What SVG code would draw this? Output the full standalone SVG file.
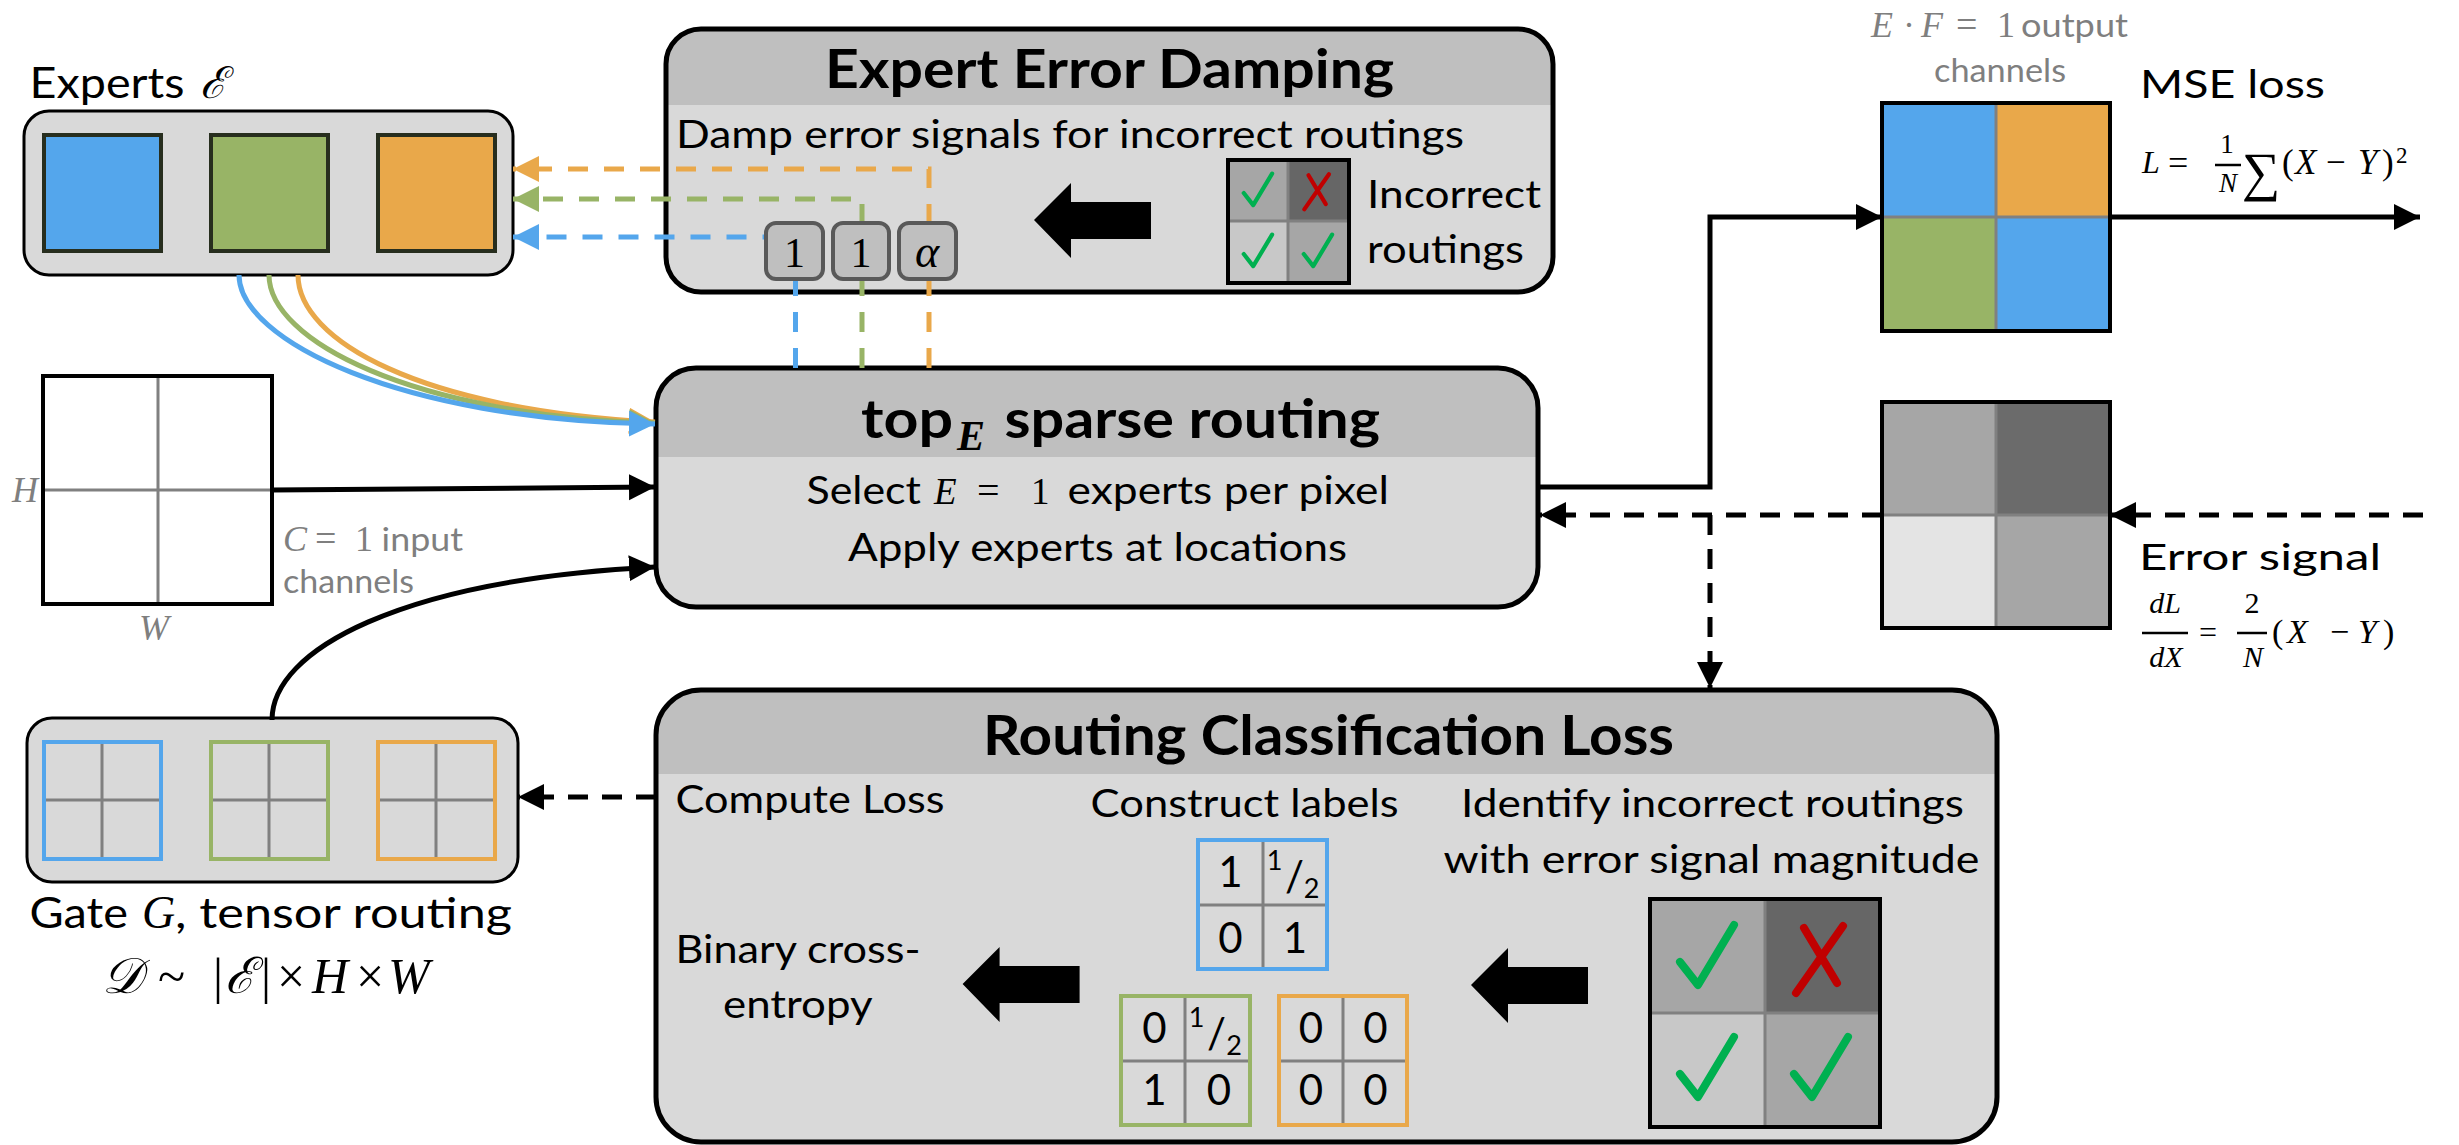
<svg xmlns="http://www.w3.org/2000/svg" width="2459" height="1145" viewBox="0 0 2459 1145">
<style>
text{font-family:Lato,"Liberation Sans",sans-serif;fill:#000}
.b{font-weight:700}
.m{font-family:"Liberation Serif","DejaVu Serif",serif;font-style:italic}
.r{font-family:"Liberation Serif","DejaVu Serif",serif;font-style:normal}
.g{fill:#7f7f7f}
.box{fill:#d9d9d9}
.hdr{fill:#bfbfbf}
.outline{fill:none;stroke:#000;stroke-width:5}
.grid{stroke:#808080;stroke-width:3;fill:none}
.frame{fill:none;stroke:#000;stroke-width:4}
.sq{stroke:#272e1e;stroke-width:4}
.solid{fill:none;stroke:#000;stroke-width:5}
.dash{fill:none;stroke:#000;stroke-width:5;stroke-dasharray:20 14}
.cd{fill:none;stroke-width:5;stroke-dasharray:20 16}
.cv{fill:none;stroke-width:5}
.badge{fill:#bfbfbf;stroke:#595959;stroke-width:4}
.ok{fill:none;stroke:#00b050;stroke-width:8;stroke-linecap:round;stroke-linejoin:round}
.no{fill:none;stroke:#c00000;stroke-width:8;stroke-linecap:round}
</style>
<defs>
<marker id="ah" markerUnits="userSpaceOnUse" markerWidth="28" markerHeight="28" refX="26" refY="13" orient="auto"><path d="M0,0 L26,13 L0,26 Z" fill="#000"/></marker>
<marker id="ab" markerUnits="userSpaceOnUse" markerWidth="28" markerHeight="28" refX="26" refY="13" orient="auto"><path d="M0,0 L26,13 L0,26 Z" fill="#54a6ec"/></marker>
<marker id="ag" markerUnits="userSpaceOnUse" markerWidth="28" markerHeight="28" refX="26" refY="13" orient="auto"><path d="M0,0 L26,13 L0,26 Z" fill="#98b466"/></marker>
<marker id="ao" markerUnits="userSpaceOnUse" markerWidth="28" markerHeight="28" refX="26" refY="13" orient="auto"><path d="M0,0 L26,13 L0,26 Z" fill="#e9a84a"/></marker>
<path id="barrow" d="M0,0 L37,-37 L37,-18 L117,-18 L117,19 L37,19 L37,38 Z" fill="#000"/>
<path id="chk" class="ok" d="M30,63 L48,86 L84,26"/>
<path id="xx" class="no" d="M39,29 L72,84 M78,27 L31,94"/>
</defs>
<rect x="0" y="0" width="2459" height="1145" fill="#fff"/>

<!-- Experts -->
<g id="experts">
<text y="98" font-size="43"><tspan x="29.5" textLength="155" lengthAdjust="spacingAndGlyphs">Experts</tspan><tspan x="200" class="m" font-size="44">ℰ</tspan></text>
<rect x="24" y="111" width="489" height="164" rx="25" fill="#d9d9d9" stroke="#000" stroke-width="3"/>
<rect x="44" y="135" width="117" height="116" fill="#54a6ec" class="sq"/>
<rect x="211" y="135" width="117" height="116" fill="#98b466" class="sq"/>
<rect x="378" y="135" width="117" height="116" fill="#e9a84a" class="sq"/>
</g>

<!-- Expert Error Damping -->
<g id="expert-error-damping">
<rect x="666" y="29" width="887" height="263" rx="35" class="box"/>
<path class="hdr" d="M666,105 V64 A35,35 0 0 1 701,29 H1518 A35,35 0 0 1 1553,64 V105 Z"/>
<rect x="666" y="29" width="887" height="263" rx="35" class="outline"/>
<text x="1109.5" y="88" text-anchor="middle" class="b" font-size="54" textLength="569" lengthAdjust="spacingAndGlyphs">Expert Error Damping</text>
<text x="676" y="148" font-size="39" textLength="788" lengthAdjust="spacingAndGlyphs">Damp error signals for incorrect routings</text>
<use href="#barrow" x="1034" y="220"/>
<rect x="1228" y="160" width="60" height="61" fill="#a6a6a6"/>
<rect x="1288" y="160" width="61" height="61" fill="#666666"/>
<rect x="1228" y="221" width="60" height="62" fill="#c8c8c8"/>
<rect x="1288" y="221" width="61" height="62" fill="#a6a6a6"/>
<path class="grid" d="M1288,160 V283 M1228,221 H1349"/>
<rect x="1228" y="160" width="121" height="123" class="frame" stroke-width="3"/>
<use href="#chk" transform="translate(1228,160) scale(0.525)"/>
<use href="#xx" transform="translate(1288,160) scale(0.525)"/>
<use href="#chk" transform="translate(1228,221) scale(0.525)"/>
<use href="#chk" transform="translate(1288,221) scale(0.525)"/>
<text x="1367" y="208" font-size="38" textLength="174" lengthAdjust="spacingAndGlyphs">Incorrect</text>
<text x="1367" y="263" font-size="38" textLength="157" lengthAdjust="spacingAndGlyphs">routings</text>
</g>

<!-- Input grid -->
<g id="input-grid">
<rect x="43" y="376" width="229" height="228" fill="#fff"/>
<path class="grid" d="M158,376 V604 M43,490 H272"/>
<rect x="43" y="376" width="229" height="228" class="frame"/>
<text x="12" y="502" class="m g" font-size="36">H</text>
<text x="139" y="640" class="m g" font-size="36">W</text>
<text y="551" class="g" font-size="33"><tspan x="283" class="m" font-size="36">C</tspan><tspan x="315" class="r" font-size="38">=</tspan><tspan x="355" class="r" font-size="36">1</tspan><tspan x="381.6" textLength="81.4" lengthAdjust="spacingAndGlyphs">input</tspan></text>
<text x="283" y="593" class="g" font-size="33" textLength="131" lengthAdjust="spacingAndGlyphs">channels</text>
</g>

<!-- Routing -->
<g id="sparse-routing">
<rect x="656" y="368" width="882" height="239" rx="40" class="box"/>
<path class="hdr" d="M656,457 V408 A40,40 0 0 1 696,368 H1498 A40,40 0 0 1 1538,408 V457 Z"/>
<rect x="656" y="368" width="882" height="239" rx="40" class="outline"/>
<text y="438" class="b" font-size="54"><tspan x="861" textLength="92" lengthAdjust="spacingAndGlyphs">top</tspan><tspan x="957" y="450" class="m" font-size="42" font-weight="700">E</tspan><tspan x="1004.5" y="438" textLength="375.5" lengthAdjust="spacingAndGlyphs">sparse routing</tspan></text>
<text y="504" font-size="39"><tspan x="806.5" textLength="114.5" lengthAdjust="spacingAndGlyphs">Select</tspan><tspan x="934" class="m" font-size="37">E</tspan><tspan x="977" class="r" font-size="40">=</tspan><tspan x="1031" class="r" font-size="37">1</tspan><tspan x="1067.6" textLength="321.4" lengthAdjust="spacingAndGlyphs">experts per pixel</tspan></text>
<text x="848" y="561" font-size="39" textLength="499" lengthAdjust="spacingAndGlyphs">Apply experts at locations</text>
</g>

<!-- Output grid -->
<g id="output-grid">
<text y="37" class="g" font-size="33"><tspan x="1871" class="m" font-size="36">E</tspan><tspan x="1903" class="r" font-size="36">·</tspan><tspan x="1921" class="m" font-size="36">F</tspan><tspan x="1956" class="r" font-size="38">=</tspan><tspan x="1997" class="r" font-size="36">1</tspan><tspan x="2021" textLength="107" lengthAdjust="spacingAndGlyphs">output</tspan></text>
<text x="1934" y="82" class="g" font-size="33" textLength="132" lengthAdjust="spacingAndGlyphs">channels</text>
<rect x="1882" y="103" width="114" height="114" fill="#54a6ec"/>
<rect x="1996" y="103" width="114" height="114" fill="#e9a84a"/>
<rect x="1882" y="217" width="114" height="114" fill="#98b466"/>
<rect x="1996" y="217" width="114" height="114" fill="#54a6ec"/>
<path class="grid" d="M1996,103 V331 M1882,217 H2110"/>
<rect x="1882" y="103" width="228" height="228" class="frame"/>
</g>

<!-- MSE loss -->
<g id="mse-loss">
<text x="2140" y="98" font-size="39" textLength="185" lengthAdjust="spacingAndGlyphs">MSE loss</text>
<text x="2142" y="173" class="m" font-size="32">L</text>
<text x="2168" y="175" class="r" font-size="36">=</text>
<text x="2227" y="153" class="r" font-size="27" text-anchor="middle">1</text>
<line x1="2215" y1="165" x2="2241" y2="165" stroke="#000" stroke-width="2.5"/>
<text x="2228" y="192" class="m" font-size="27" text-anchor="middle">N</text>
<text x="2242" y="190" class="r" font-size="54">∑</text>
<text y="174" class="r" font-size="35"><tspan x="2282">(</tspan><tspan x="2295" class="m">X</tspan><tspan x="2326">−</tspan><tspan x="2358" class="m">Y</tspan><tspan x="2382">)</tspan><tspan x="2396" y="163" font-size="23">2</tspan></text>
</g>

<!-- Error signal grid -->
<g id="error-signal">
<rect x="1882" y="402" width="114" height="113" fill="#a6a6a6"/>
<rect x="1996" y="402" width="114" height="113" fill="#6b6b6b"/>
<rect x="1882" y="515" width="114" height="113" fill="#e4e4e4"/>
<rect x="1996" y="515" width="114" height="113" fill="#a6a6a6"/>
<path class="grid" d="M1996,402 V628 M1882,515 H2110"/>
<rect x="1882" y="402" width="228" height="226" class="frame"/>
<text x="2139" y="570" font-size="37" textLength="242" lengthAdjust="spacingAndGlyphs">Error signal</text>
<text x="2165" y="613" class="m" font-size="30" text-anchor="middle">dL</text>
<line x1="2142" y1="633" x2="2188" y2="633" stroke="#000" stroke-width="2.5"/>
<text x="2166" y="667" class="m" font-size="30" text-anchor="middle">dX</text>
<text x="2199" y="643" class="r" font-size="32">=</text>
<text x="2252" y="613" class="r" font-size="30" text-anchor="middle">2</text>
<line x1="2237" y1="633" x2="2267" y2="633" stroke="#000" stroke-width="2.5"/>
<text x="2253" y="667" class="m" font-size="30" text-anchor="middle">N</text>
<text y="643" class="r" font-size="34"><tspan x="2272">(</tspan><tspan x="2287" class="m">X</tspan><tspan x="2330">−</tspan><tspan x="2358" class="m">Y</tspan><tspan x="2383">)</tspan></text>
</g>

<!-- Gate -->
<g id="gate">
<rect x="27" y="718" width="491" height="164" rx="25" fill="#d9d9d9" stroke="#000" stroke-width="3"/>
<path class="grid" d="M102,742 V859 M44,800 H161 M269,742 V859 M211,800 H328 M436,742 V859 M378,800 H495"/>
<rect x="44" y="742" width="117" height="117" fill="none" stroke="#54a6ec" stroke-width="4"/>
<rect x="211" y="742" width="117" height="117" fill="none" stroke="#98b466" stroke-width="4"/>
<rect x="378" y="742" width="117" height="117" fill="none" stroke="#e9a84a" stroke-width="4"/>
<text y="928" font-size="43"><tspan x="29.5" textLength="98.5" lengthAdjust="spacingAndGlyphs">Gate</tspan><tspan x="142" class="m" font-size="46">G</tspan><tspan x="175" textLength="337" lengthAdjust="spacingAndGlyphs">, tensor routing</tspan></text>
<text y="993" class="r" font-size="50"><tspan x="102" class="m">𝒟</tspan><tspan x="158">~</tspan><tspan x="213">|</tspan><tspan x="225" class="m">ℰ</tspan><tspan x="261">|</tspan><tspan x="277">×</tspan><tspan x="312" class="m">H</tspan><tspan x="356">×</tspan><tspan x="388" class="m">W</tspan></text>
</g>

<!-- Routing Classification Loss -->
<g id="routing-classification-loss">
<rect x="656" y="690" width="1341" height="452" rx="45" class="box"/>
<path class="hdr" d="M656,774 V735 A45,45 0 0 1 701,690 H1952 A45,45 0 0 1 1997,735 V774 Z"/>
<rect x="656" y="690" width="1341" height="452" rx="45" class="outline"/>
<text x="1328.5" y="755" text-anchor="middle" class="b" font-size="56" textLength="691" lengthAdjust="spacingAndGlyphs">Routing Classification Loss</text>
<text x="675.6" y="813" font-size="39" textLength="269" lengthAdjust="spacingAndGlyphs">Compute Loss</text>
<text x="1090.6" y="817" font-size="39" textLength="308" lengthAdjust="spacingAndGlyphs">Construct labels</text>
<text x="1461" y="817" font-size="39" textLength="503" lengthAdjust="spacingAndGlyphs">Identify incorrect routings</text>
<text x="1443.5" y="873" font-size="39" textLength="536" lengthAdjust="spacingAndGlyphs">with error signal magnitude</text>
<text x="675.6" y="963" font-size="39" textLength="245" lengthAdjust="spacingAndGlyphs">Binary cross-</text>
<text x="723" y="1018" font-size="39" textLength="149.5" lengthAdjust="spacingAndGlyphs">entropy</text>
<use href="#barrow" x="962.6" y="984"/>
<use href="#barrow" x="1471" y="985"/>
<path class="grid" d="M1263,840 V969 M1198,905 H1327 M1185,996 V1125 M1121,1061 H1250 M1343,996 V1125 M1279,1061 H1407"/>
<rect x="1198" y="840" width="129" height="129" fill="none" stroke="#54a6ec" stroke-width="4"/>
<rect x="1121" y="996" width="129" height="129" fill="none" stroke="#98b466" stroke-width="4"/>
<rect x="1279" y="996" width="128" height="129" fill="none" stroke="#e9a84a" stroke-width="4"/>
<g font-size="42" text-anchor="middle">
<text x="1230.5" y="887">1</text>
<text x="1230.5" y="953">0</text>
<text x="1295" y="953">1</text>
<text font-size="27"><tspan x="1274.5" y="870">1</tspan><tspan x="1294.5" y="891" font-size="42">/</tspan><tspan x="1311.5" y="898">2</tspan></text>
<text x="1154.5" y="1043">0</text>
<text font-size="27"><tspan x="1196.5" y="1027">1</tspan><tspan x="1216.5" y="1048" font-size="42">/</tspan><tspan x="1234" y="1055">2</tspan></text>
<text x="1154.5" y="1105">1</text>
<text x="1219" y="1105">0</text>
<text x="1311" y="1043">0</text>
<text x="1375.5" y="1043">0</text>
<text x="1311" y="1105">0</text>
<text x="1375.5" y="1105">0</text>
</g>
<rect x="1650" y="899" width="115" height="114" fill="#a6a6a6"/>
<rect x="1765" y="899" width="115" height="114" fill="#666666"/>
<rect x="1650" y="1013" width="115" height="114" fill="#c8c8c8"/>
<rect x="1765" y="1013" width="115" height="114" fill="#a6a6a6"/>
<path class="grid" d="M1765,899 V1127 M1650,1013 H1880"/>
<rect x="1650" y="899" width="230" height="228" class="frame"/>
<use href="#chk" transform="translate(1650,899)"/>
<use href="#xx" transform="translate(1765,899)"/>
<use href="#chk" transform="translate(1650,1011)"/>
<use href="#chk" transform="translate(1764,1011)"/>
</g>

<!-- Connectors -->
<g id="connectors">
<path class="cv" stroke="#e9a84a" marker-end="url(#ao)" d="M298,275 C298,340 420,410 655,422"/>
<path class="cv" stroke="#98b466" marker-end="url(#ag)" d="M269,275 C269,340 410,415 655,423"/>
<path class="cv" stroke="#54a6ec" marker-end="url(#ab)" d="M239,275 C239,340 400,420 655,424"/>
<path class="solid" marker-end="url(#ah)" d="M272,490 L655,487"/>
<path class="solid" marker-end="url(#ah)" d="M272,720 C272,650 400,580 655,567"/>
<path class="solid" marker-end="url(#ah)" d="M1538,487 H1710 V217 H1882"/>
<path class="solid" marker-end="url(#ah)" d="M2110,217 H2420"/>
<path class="dash" marker-end="url(#ah)" d="M2423,515 H2110"/>
<path class="dash" marker-end="url(#ah)" d="M1882,515 H1540"/>
<path class="dash" marker-end="url(#ah)" d="M1710,515 V688"/>
<path class="dash" marker-end="url(#ah)" d="M656,797 H518"/>
<path class="cd" stroke="#e9a84a" marker-end="url(#ao)" d="M929,368 V169 H513"/>
<path class="cd" stroke="#98b466" marker-end="url(#ag)" d="M862,368 V199 H513"/>
<path class="cd" stroke="#54a6ec" marker-end="url(#ab)" d="M795.5,368 V237 H513"/>
</g>

<!-- Damping weights -->
<g id="damping-weights">
<rect x="766" y="223" width="57" height="56" rx="10" class="badge"/>
<rect x="833" y="223" width="56" height="56" rx="10" class="badge"/>
<rect x="899" y="223" width="57" height="56" rx="10" class="badge"/>
<text x="794.5" y="267" class="r" font-size="42" text-anchor="middle">1</text>
<text x="861" y="267" class="r" font-size="42" text-anchor="middle">1</text>
<text x="927" y="267" class="m" font-size="46" text-anchor="middle">α</text>
</g>
</svg>
